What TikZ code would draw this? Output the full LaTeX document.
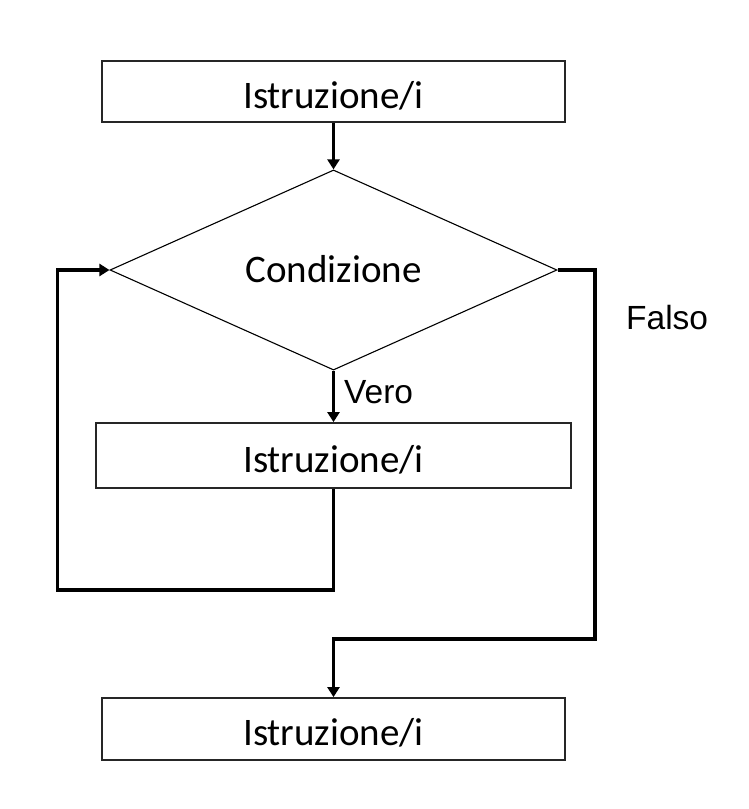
\documentclass[tikz,border=0pt]{standalone}
\usepackage{fontspec}
\setmainfont{Carlito}
\newfontfamily\arialfont{Liberation Sans}
\usetikzlibrary{shapes.geometric,arrows.meta}
\tikzset{
  stepbox/.style={draw=black!85, line width=1.8pt, rectangle, inner sep=0pt,
    font=\fontsize{39}{47}\selectfont, text height=33pt, text depth=0pt},
  decision/.style={draw, line width=1.1pt, diamond, inner sep=0pt,
    minimum width=447pt, minimum height=200pt,
    font=\fontsize{39}{47}\selectfont, text height=24pt, text depth=0pt},
  flow/.style={line width=3.6pt, -{Triangle[length=10pt,width=12pt]}},
  lbl/.style={font=\arialfont\fontsize{33.5}{40}\selectfont, inner sep=0pt, anchor=base west}
}
\begin{document}
\begin{tikzpicture}[x=1pt,y=-1pt]
\useasboundingbox (0,0) rectangle (748,809);
\node[stepbox, minimum width=463pt, minimum height=61pt] (top) at (333.5,91.5) {Istruzione/i};
\node[decision] (dia) at (333.5,270) {Condizione};
\node[stepbox, minimum width=475pt, minimum height=65pt] (mid) at (333.5,455.5) {Istruzione/i};
\node[stepbox, minimum width=463pt, minimum height=62pt] (bot) at (333.5,729) {Istruzione/i};
\node[lbl] (vero) at (344,403) {Vero};
\node[lbl] (falso) at (626,329) {Falso};
\coordinate (lb) at (57.5,590);
\coordinate (fr) at (595,639);
\draw[flow] (top.south) -- (dia.north);
\draw[flow] (dia.south) -- (mid.north);
\draw[flow] (mid.south) |- (lb) -- (lb |- dia.west) -- (dia.west);
\draw[flow] (dia.east) -| (fr) -| (bot.north);
\end{tikzpicture}
\end{document}
